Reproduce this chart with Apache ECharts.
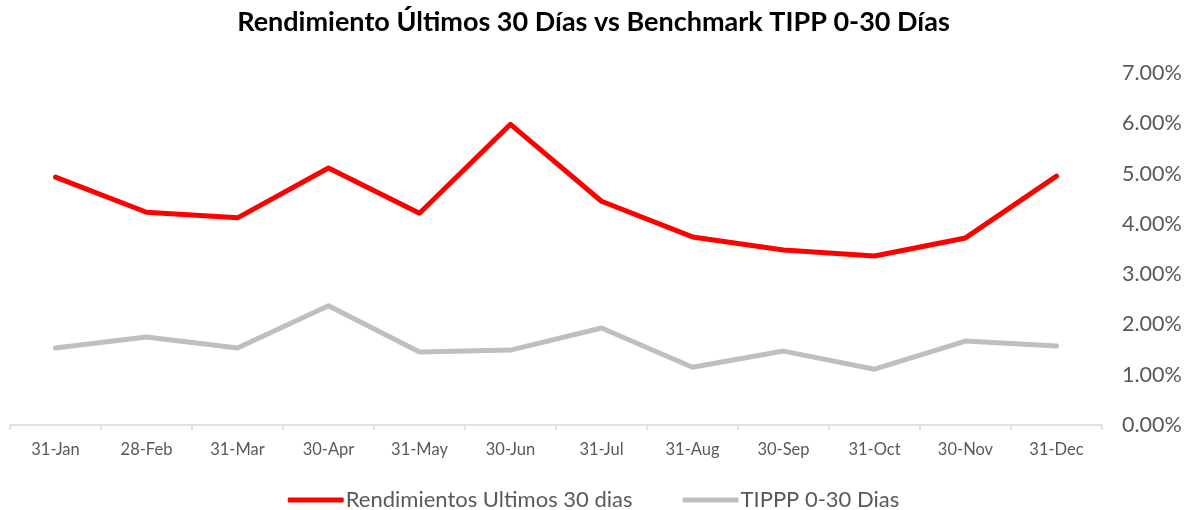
<!DOCTYPE html>
<html><head><meta charset="utf-8">
<script src="https://cdn.jsdelivr.net/npm/echarts@6/dist/echarts.min.js"></script>
<style>html,body{margin:0;padding:0;background:#fff}#c{width:1187px;height:510px}</style>
</head><body><div id="c"></div>
<script>
const categories = ['31-Jan','28-Feb','31-Mar','30-Apr','31-May','30-Jun','31-Jul','31-Aug','30-Sep','31-Oct','30-Nov','31-Dec'];
const rendimientos = [4.93, 4.23, 4.12, 5.11, 4.21, 5.98, 4.45, 3.74, 3.48, 3.36, 3.72, 4.95];
const tippp = [1.53, 1.75, 1.53, 2.37, 1.45, 1.49, 1.93, 1.15, 1.47, 1.11, 1.67, 1.57];
const seriesNames = ['Rendimientos Ultimos 30 dias', 'TIPPP 0-30 Dias'];
const FONT = 'Lato, "Open Sans", sans-serif';
const chart = echarts.init(document.getElementById('c'));
chart.setOption({
  animation: false,
  backgroundColor: '#fff',
  title: {
    text: 'Rendimiento Últimos 30 Días vs Benchmark TIPP 0-30 Días',
    left: 'center', top: 4,
    textStyle: {fontFamily: FONT, fontSize: 27, fontWeight: 'bold', color: '#000'}
  },
  legend: {
    top: 484, left: 'center',
    itemWidth: 56, itemHeight: 5, itemGap: 50,
    icon: 'roundRect',
    textStyle: {fontFamily: FONT, fontSize: 22, color: '#595959', padding: [0,0,0,-3]},
    data: seriesNames
  },
  grid: {left: 10, right: 85, top: 73, bottom: 85, containLabel: false},
  xAxis: {
    type: 'category', data: categories, boundaryGap: true,
    axisLine: {lineStyle: {color: '#d9d9d9', width: 1.5}},
    axisTick: {show: true, length: 5, lineStyle: {color: '#d9d9d9', width: 1.5}},
    axisLabel: {fontFamily: FONT, fontSize: 16.5, color: '#595959', margin: 16}
  },
  yAxis: {
    type: 'value', position: 'right', min: 0, max: 7, interval: 1,
    axisLine: {show: false}, axisTick: {show: false}, splitLine: {show: false},
    axisLabel: {fontFamily: FONT, fontSize: 21.5, color: '#595959', margin: 20,
      formatter: v => v.toFixed(2) + '%'}
  },
  series: [
    {name: seriesNames[0], type: 'line', data: rendimientos, symbol: 'none',
     lineStyle: {color: '#ff0000', width: 5, join: 'round', cap: 'round'}, itemStyle: {color: '#ff0000'}},
    {name: seriesNames[1], type: 'line', data: tippp, symbol: 'none',
     lineStyle: {color: '#bfbfbf', width: 5, join: 'round', cap: 'round'}, itemStyle: {color: '#bfbfbf'}}
  ]
});
</script></body></html>
